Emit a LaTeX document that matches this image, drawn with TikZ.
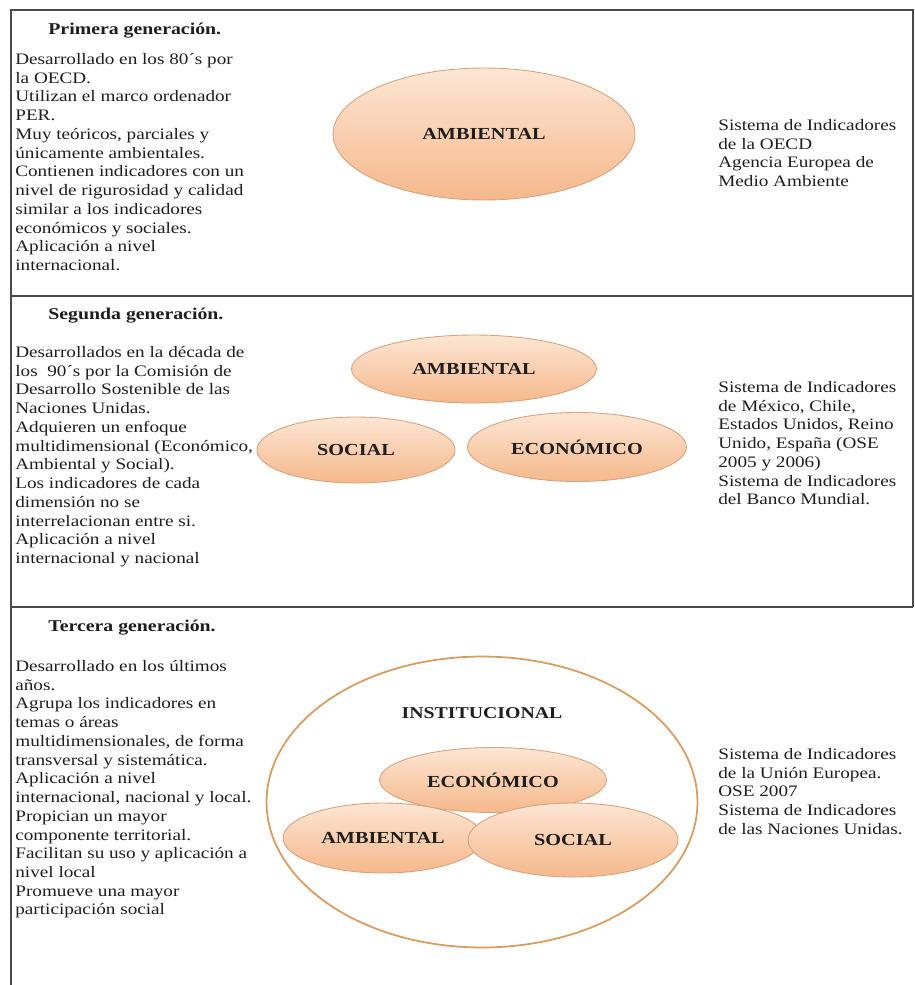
\documentclass[tikz,border=0pt]{standalone}
\usepackage{fontspec}
\setmainfont{Liberation Serif}[FakeStretch=1.2]
\usepackage{tikz}
\usetikzlibrary{shapes.geometric}

\definecolor{frameline}{HTML}{4A4A4A}
\definecolor{peachtop}{HTML}{FDE6D4}
\definecolor{peachbot}{HTML}{F5B88C}
\definecolor{peachline}{HTML}{D6A47E}
\definecolor{ringline}{HTML}{D99C60}
\definecolor{inktext}{HTML}{1E1E1E}

\tikzset{
  frame/.style={draw=frameline, line width=1.1pt},
  blob/.style={ellipse, draw=peachline, line width=0.5pt, top color=peachtop,
    bottom color=peachbot, inner sep=0pt, text=inktext,
    font=\bfseries\fontsize{9.6}{10}\selectfont},
  ring/.style={ellipse, draw=ringline, line width=1pt, fill=white, inner sep=0pt},
  gentitle/.style={anchor=north west, inner sep=0pt, text=inktext,
    font=\bfseries\fontsize{9.4}{10.66}\selectfont},
  gentext/.style={anchor=north west, inner sep=0pt, align=left, text=inktext,
    font=\fontsize{9.1}{10.66}\selectfont},
}

\begin{document}
\begin{tikzpicture}[x=0.02cm, y=-0.02cm]
\useasboundingbox (0,0) rectangle (915,985);

\coordinate(tl) at (11, 10);
\coordinate(tr) at (913, 10);
\coordinate(al) at (11, 296);
\coordinate(ar) at (913, 296);
\coordinate(bl) at (11, 607);
\coordinate(br) at (913, 607);
\coordinate(dl) at (11, 985);

\draw[frame] (dl)--(tl)--(tr)--(br);
\draw[frame] (al)--(ar);
\draw[frame] (bl)--(br);

% primera
\node[gentitle] (t1) at (48, 23) {Primera generación.};
\node[gentext] (l1) at (15, 53) {Desarrollado en los 80´s por\\la OECD.\\Utilizan el marco ordenador\\PER.\\Muy teóricos, parciales y\\únicamente ambientales.\\Contienen indicadores con un\\nivel de rigurosidad y calidad\\similar a los indicadores\\económicos y sociales.\\Aplicación a nivel\\internacional.};
\node[blob, minimum width=6.04cm, minimum height=2.64cm] (amb1) at (484, 134) {AMBIENTAL};
\node[gentext] (r1) at (718, 119) {Sistema de Indicadores\\de la OECD\\Agencia Europea de\\Medio Ambiente};

% segunda
\node[gentitle] (t2) at (48, 308) {Segunda generación.};
\node[gentext] (l2) at (15, 346) {Desarrollados en la década de\\los \ 90´s por la Comisión de\\Desarrollo Sostenible de las\\Naciones Unidas.\\Adquieren un enfoque\\multidimensional (Económico,\\Ambiental y Social).\\Los indicadores de cada\\dimensión no se\\interrelacionan entre si.\\Aplicación a nivel\\internacional y nacional};
\node[blob, minimum width=4.9cm, minimum height=1.36cm] (amb2) at (474, 369) {AMBIENTAL};
\node[blob, minimum width=3.96cm, minimum height=1.32cm] (soc2) at (356, 450) {SOCIAL};
\node[blob, minimum width=4.38cm, minimum height=1.38cm] (eco2) at (577, 447) {ECONÓMICO};
\node[gentext] (r2) at (718, 381) {Sistema de Indicadores\\de México, Chile,\\Estados Unidos, Reino\\Unido, España (OSE\\2005 y 2006)\\Sistema de Indicadores\\del Banco Mundial.};

% tercera
\node[gentitle] (t3) at (48, 620) {Tercera generación.};
\node[gentext] (l3) at (15, 660) {Desarrollado en los últimos\\años.\\Agrupa los indicadores en\\temas o áreas\\multidimensionales, de forma\\transversal y sistemática.\\Aplicación a nivel\\internacional, nacional y local.\\Propician un mayor\\componente territorial.\\Facilitan su uso y aplicación a\\nivel local\\Promueve una mayor\\participación social};
\node[ring, minimum width=8.62cm, minimum height=5.82cm] (inst) at (482, 802) {};
\node[gentitle, anchor=center] (instl) at (482, 713) {INSTITUCIONAL};
\node[blob, minimum width=4.54cm, minimum height=1.3cm] (eco3) at (493, 780) {ECONÓMICO};
\node[blob, minimum width=4cm, minimum height=1.4cm] (amb3) at (383, 838) {AMBIENTAL};
\node[blob, minimum width=4.2cm, minimum height=1.48cm] (soc3) at (573, 840) {SOCIAL};
\node[gentext] (r3) at (718, 748) {Sistema de Indicadores\\de la Unión Europea.\\OSE 2007\\Sistema de Indicadores\\de las Naciones Unidas.};

\end{tikzpicture}
\end{document}
